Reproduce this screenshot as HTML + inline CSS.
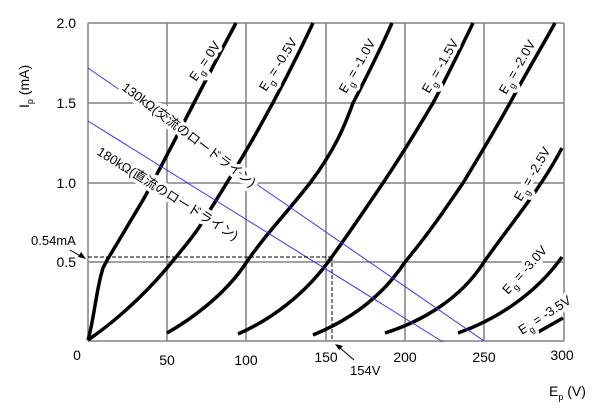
<!DOCTYPE html>
<html><head><meta charset="utf-8"><style>
html,body{margin:0;padding:0;background:#fff;}
svg{display:block;font-family:"Liberation Sans","Noto Sans CJK JP",sans-serif;}
.lb{paint-order:stroke;stroke:#fff;stroke-width:7px;stroke-linejoin:round;fill:#000;font-size:13px;}
</style></head><body>
<svg width="606" height="410" viewBox="0 0 606 410">
<g stroke="#808080" stroke-width="1.5" fill="none">
<line x1="88" y1="23" x2="564" y2="23"/>
<line x1="88" y1="103" x2="564" y2="103"/>
<line x1="88" y1="183" x2="564" y2="183"/>
<line x1="88" y1="262" x2="564" y2="262"/>
<line x1="88" y1="341" x2="564" y2="341"/>
<line x1="88" y1="23" x2="88" y2="341"/>
<line x1="167" y1="23" x2="167" y2="341"/>
<line x1="246" y1="23" x2="246" y2="341"/>
<line x1="326" y1="23" x2="326" y2="341"/>
<line x1="405" y1="23" x2="405" y2="341"/>
<line x1="484" y1="23" x2="484" y2="341"/>
<line x1="564" y1="23" x2="564" y2="341"/>
</g>
<g stroke="#000" stroke-width="3.5" fill="none" stroke-linecap="butt">
<path d="M88,340 C94,320 96,290 103,268 C106,262 108,258 112,252 L143,200 C160,170 200,90 236,23"/>
<path d="M88,340 C110,325 140,300 167,268 C180,252 195,235 205,218 C230,178 270,115 313,23"/>
<path d="M167,333 C190,320 225,295 246,263 C265,235 285,215 310,183 C335,150 345,125 353,103 C365,80 380,50 392,23"/>
<path d="M238,334 C270,320 305,295 331,258 C350,232 368,205 383,183 C405,150 420,125 433,103 C448,75 460,50 473,23"/>
<path d="M313,335 C345,322 380,300 405,262 C430,232 448,205 463,183 C480,155 495,130 510,103 C525,75 540,50 555,23"/>
<path d="M385,333 C420,322 460,300 484,262 C510,225 540,190 562,148"/>
<path d="M458,333 C495,320 535,295 562,257"/>
<path d="M533,335 L563,318"/>
</g>
<g stroke="#3333ff" stroke-width="1" fill="none">
<line x1="88" y1="68" x2="484" y2="341"/>
<line x1="88" y1="121" x2="443" y2="342"/>
</g>
<g stroke="#000" stroke-width="1" stroke-dasharray="4,2" fill="none">
<line x1="88" y1="257" x2="331" y2="257"/>
<line x1="332" y1="257" x2="332" y2="341"/>
</g>
<text class="lb" transform="translate(121,89) rotate(37)">130kΩ(交流のロードライン)</text>
<text class="lb" transform="translate(96,154) rotate(32)">180kΩ(直流のロードライン)</text>
<g class="lb">
<text transform="translate(196,82) rotate(-56)">E<tspan font-size="9" dy="4">g</tspan><tspan dy="-4"> = 0V</tspan></text>
<text transform="translate(266,92) rotate(-58)">E<tspan font-size="9" dy="4">g</tspan><tspan dy="-4"> = -0.5V</tspan></text>
<text transform="translate(346,94) rotate(-60)">E<tspan font-size="9" dy="4">g</tspan><tspan dy="-4"> = -1.0V</tspan></text>
<text transform="translate(429,94) rotate(-60)">E<tspan font-size="9" dy="4">g</tspan><tspan dy="-4"> = -1.5V</tspan></text>
<text transform="translate(506,95) rotate(-60)">E<tspan font-size="9" dy="4">g</tspan><tspan dy="-4"> = -2.0V</tspan></text>
<text transform="translate(521,202) rotate(-60)">E<tspan font-size="9" dy="4">g</tspan><tspan dy="-4"> = -2.5V</tspan></text>
<text transform="translate(508,295) rotate(-48)">E<tspan font-size="9" dy="4">g</tspan><tspan dy="-4"> = -3.0V</tspan></text>
<text transform="translate(522,335) rotate(-33)">E<tspan font-size="9" dy="4">g</tspan><tspan dy="-4"> = -3.5V</tspan></text>
</g>
<g font-size="14" fill="#000" text-anchor="end">
<text x="76" y="28">2.0</text>
<text x="76" y="108">1.5</text>
<text x="76" y="188">1.0</text>
<text x="76" y="267">0.5</text>
</g>
<g font-size="14" fill="#000" text-anchor="middle">
<text x="77" y="360">0</text>
<text x="167" y="365">50</text>
<text x="246" y="365">100</text>
<text x="326" y="362">150</text>
<text x="405" y="362">200</text>
<text x="484" y="362">250</text>
<text x="562" y="360">300</text>
</g>
<text x="31" y="245" font-size="13">0.54mA</text>
<line x1="70" y1="250" x2="82" y2="257" stroke="#000" stroke-width="1"/>
<path d="M86,259 L78,257 L81,252 Z" fill="#000"/>
<text x="350" y="375" font-size="13">154V</text>
<line x1="354" y1="360" x2="339" y2="347" stroke="#000" stroke-width="1"/>
<path d="M335,344 L343,346 L339,350 Z" fill="#000"/>
<text transform="translate(29,108) rotate(-90)" font-size="14">I<tspan font-size="9" dy="4">p</tspan><tspan dy="-4"> (mA)</tspan></text>
<text x="549" y="396" font-size="14">E<tspan font-size="9" dy="4">p</tspan><tspan dy="-4"> (V)</tspan></text>
</svg>
</body></html>
